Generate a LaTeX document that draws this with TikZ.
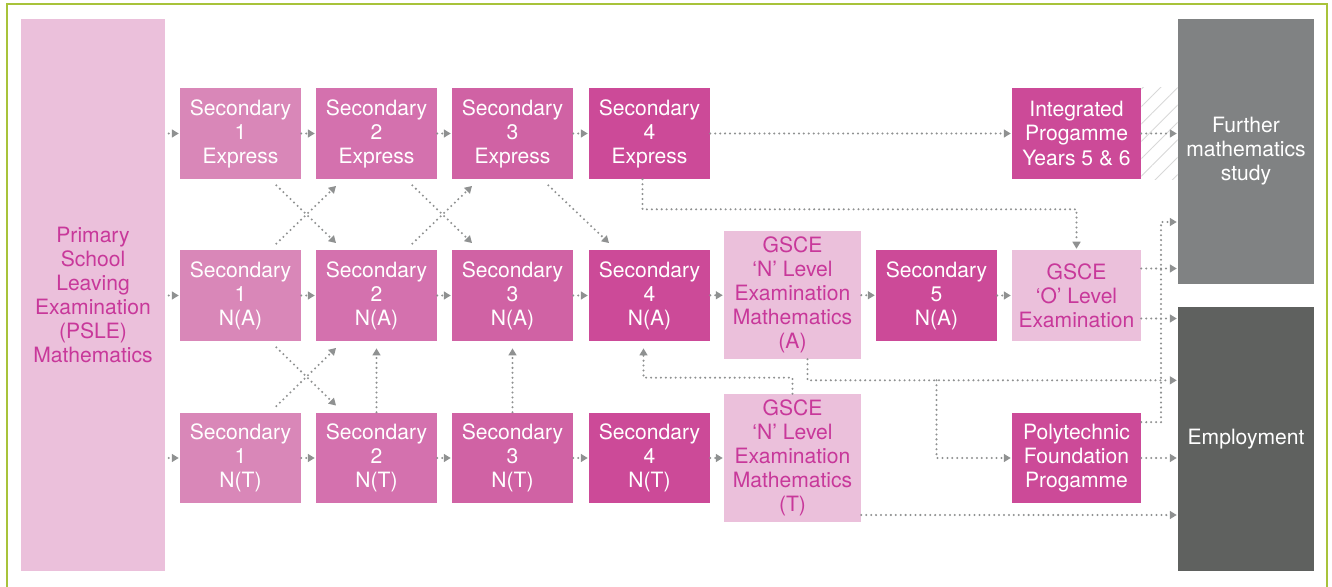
\documentclass[tikz,border=0pt]{standalone}
\usepackage{fontspec}
\setmainfont{TeX Gyre Heros}
\usetikzlibrary{arrows.meta,patterns.meta}
\definecolor{secA}{HTML}{D987B8}
\definecolor{secB}{HTML}{D471AE}
\definecolor{secC}{HTML}{D062A4}
\definecolor{secD}{HTML}{CC4A98}
\definecolor{paleC}{HTML}{EBC0DB}
\definecolor{textC}{HTML}{C8389A}
\definecolor{grayA}{HTML}{808283}
\definecolor{grayB}{HTML}{5F615F}
\definecolor{flowC}{HTML}{8F9191}
\definecolor{hatchC}{HTML}{D8D8D8}
\definecolor{frameC}{HTML}{A8C33A}
\begin{document}
\begin{tikzpicture}[x=0.02cm, y=-0.02cm,
  every node/.style={font=\fontsize{12}{13.7}\selectfont, align=center, inner sep=1pt},
  box/.style={minimum width=2.42cm, minimum height=1.82cm},
  pale/.style={fill=paleC, text=textC},
  flow/.style={draw=flowC, line width=1.3pt, dash pattern=on 0pt off 2.8pt, line cap=round,
    -{Triangle[length=4pt,width=4.5pt]}, shorten >=0.5pt}]
\useasboundingbox (0,0) rectangle (1332,587);
\draw[frameC, line width=1.2pt] (7,587) |- (1327,4) -- (1327,587);

% left column
\node[pale, minimum width=2.88cm, minimum height=11.04cm] (psle) at (93,295)
  {Primary\\School\\Leaving\\Examination\\(PSLE)\\Mathematics};

% secondary 1-4 grid
\foreach \r/\y/\lab in {e/133.5/Express,a/295.5/N(A),t/458/N(T)}
  \foreach \n/\x/\c in {1/240.5/secA,2/376.5/secB,3/512.5/secC,4/649.5/secD}
    \node[box, fill=\c, text=white] (\r\n) at (\x,\y) {Secondary\\\n\\\lab};

\node[box, pale, minimum width=2.74cm, minimum height=2.56cm] (gna) at (792.5,295)
  {GSCE\\‘N’ Level\\Examination\\Mathematics\\(A)};
\node[box, pale, minimum width=2.74cm, minimum height=2.56cm] (gnt) at (792.5,458)
  {GSCE\\‘N’ Level\\Examination\\Mathematics\\(T)};
\node[box, fill=secD, text=white] (s5) at (936.5,295.5) {Secondary\\5\\N(A)};
\node[box, fill=secD, text=white, minimum width=2.58cm] (ip) at (1076.5,133.5)
  {Integrated\\Progamme\\Years 5 \& 6};
\node[box, pale, minimum width=2.58cm] (go) at (1076.5,295.5)
  {GSCE\\‘O’ Level\\Examination};
\node[box, fill=secD, text=white, minimum width=2.58cm] (poly) at (1076.5,458)
  {Polytechnic\\Foundation\\Progamme};

% outcomes
\node[fill=grayA, text=white, minimum width=2.72cm, minimum height=5.3cm] (fm) at (1246,151.5)
  {Further\\mathematics\\study};
\node[fill=grayB, text=white, minimum width=2.72cm, minimum height=5.28cm] (emp) at (1246,439)
  {Employment};
\fill[pattern={Lines[angle=45,distance=7pt,line width=0.5pt]}, pattern color=hatchC]
  (ip.north east) rectangle (fm.west |- ip.south);

% connectors
\foreach \r in {e,a,t}
  \draw[flow, shorten <=2pt] (psle.east |- \r1) -- (\r1);
\foreach \r in {e,a,t}
  \foreach \i/\j in {1/2,2/3,3/4}
    \draw[flow] (\r\i) -- (\r\j);
\foreach \s/\d in {e1/a2,e2/a3,e3/a4,a1/t2}
  \draw[flow] ([shift={(-25,6)}]\s.south east) -- ([shift={(21,-6)}]\d.north west);
\foreach \s/\d in {a1/e2,a2/e3,t1/a2}
  \draw[flow] ([shift={(-25,-6)}]\s.north east) -- ([shift={(21,6)}]\d.south west);
\draw[flow, shorten >=4pt] (t2) -- (a2);
\draw[flow, shorten >=4pt] (t3) -- (a3);

\draw[flow] (e4) -- (ip);
\draw[flow] (ip.east) -- (ip.east -| fm.west);
\draw[flow] ([shift={(-7,0)}]e4.south) -- ++(0,30) -| (go.north);
\draw[flow] (a4) -- (gna);
\draw[flow] (gna) -- (s5);
\draw[flow] (s5) -- (go);
\draw[flow] ([shift={(0,-27)}]go.east) coordinate (o1) -- (o1 -| fm.west);
\draw[flow] ([shift={(0,23)}]go.east) coordinate (o2) -- (o2 -| emp.west);
\draw[flow] (t4) -- (gnt);
\draw[flow, shorten >=4pt] (gnt.north) -- ++(0,-16) -| ([shift={(-6,0)}]a4.south);
\draw[flow] ([shift={(15,0)}]gna.south) -- ++(0,21) coordinate (fork) -- (fork -| emp.west);
\coordinate (split) at (s5 |- fork);
\draw[flow] (split) |- (poly.west);
\coordinate (riser) at (1161,222);
\draw[flow] ([shift={(0,10)}]poly.north east) -| (riser) -- (riser -| fm.west);
\draw[flow] (poly.east) -- (poly.east -| emp.west);
\draw[flow] ([shift={(0,57)}]gnt.east) coordinate (t) -- (t -| emp.west);
\end{tikzpicture}
\end{document}
